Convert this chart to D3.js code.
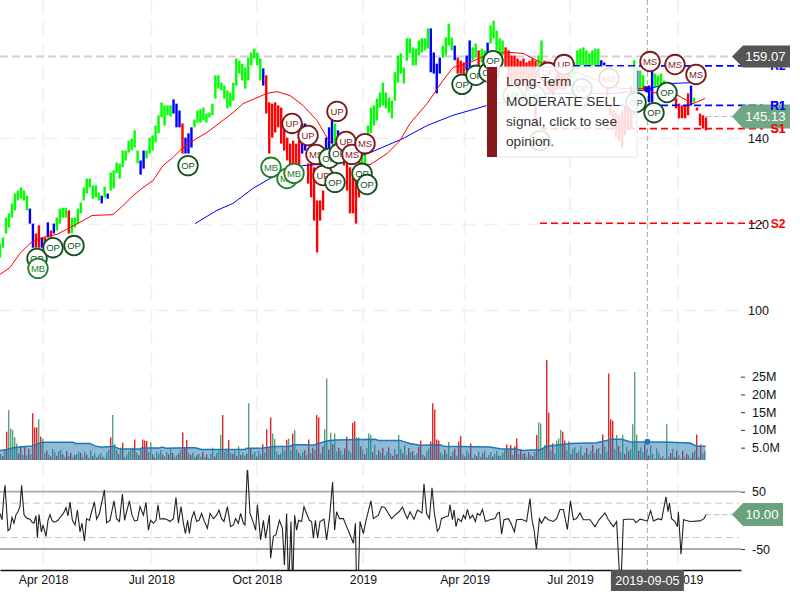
<!DOCTYPE html>
<html><head><meta charset="utf-8">
<style>html,body{margin:0;padding:0;background:#fff}svg{display:block;font-family:"Liberation Sans",Arial,sans-serif}</style>
<script src="https://cdn.jsdelivr.net/npm/d3@7"></script></head><body><svg id="c" width="800" height="600"></svg>
<script>
const priceHigh=[115.6,117,121.6,122.6,124.9,127.2,127.9,128.6,127.9,126.7,123.7,120.2,117.9,119.8,117,117,120.5,118.6,120.2,121.6,123.7,123.9,123.9,123.3,121.6,121.6,123.7,125.1,128.6,130.7,130.7,129.1,129.1,127.4,126.7,128.8,127.2,132.1,132.6,134.4,134.2,137.2,137.2,139.5,140,141.9,137.2,134.9,137.2,137.2,140.2,140.7,143,145.4,148.4,147.7,147.7,147.7,149.1,148.1,146.5,143.5,140.2,141.2,142.6,144.4,146.5,146.8,147.2,145.8,146,148.1,154.7,154.7,153,152.3,151.2,150.7,153,158.6,158.1,157.4,156.5,158.8,160,160.9,160,158.6,156.3,154.7,148.4,148.1,148.4,147.7,147.2,142.6,140.2,138.8,139.5,138.8,139.5,143.5,143.5,134.2,134.9,133.3,125.6,125.6,127.9,140.2,142.6,144.9,143.5,141.9,141.2,138.4,134.9,133.3,131.9,130.9,133.3,136.5,137.2,143,147.2,147.7,149.3,150.7,153,150.7,149.5,148.8,155.4,159.3,159.8,156.5,163.3,163.3,161.2,160.9,162.8,163.3,163.3,165.6,165.6,160,157.4,158.8,161.6,163.5,166.7,163.5,161.6,158.8,158.1,157.7,159.3,162.8,161.2,162.1,160.5,160.9,160.5,162.3,166.3,167.4,165.1,163.3,162.8,161.2,160.5,159.3,159.3,158.6,158.1,158.6,157.7,158.1,158.6,158.1,159.3,162.8,158.1,155.8,155.4,154.7,155.8,156.3,155.8,155.4,157,158.1,157.7,160.5,160.9,161.2,160.5,159.8,160.5,160.9,160.9,158.2,157.7,153.5,147.7,146.5,146,145.4,146.5,147.7,148.8,152.3,158.2,155.8,155.8,154.7,151.2,152.3,155.8,155.1,154.7,155.1,153.5,152.8,151.6,150,149.3,148.1,147.7,147.7,150.5,152.3,149.5,147.2,145.8,145.4,144.9];
const priceLow=[112.3,114.6,117.9,119.3,121.6,123.3,125.6,126,125.6,123.3,120.2,114.6,114.6,114.6,114.6,114.6,117,117,117.9,118.6,120.2,121.6,121.6,117.9,117.9,119.3,120.2,122.6,125.6,127.2,128.6,126,126.3,125.6,124.9,126.3,126,127.9,128.4,131.9,130.7,133.3,134.9,136.7,137.2,137.9,134.2,131.6,133,135.4,136.5,137.2,139.1,141.2,144.9,143,145.4,145.1,145.8,142.6,142.6,136.5,136.5,136.5,137.9,142.6,143.7,143.7,144.2,143.7,144.9,145.4,149.3,151.6,151.2,149.3,147,147.4,148.8,152.3,155.1,153.5,151.6,153.5,157,158.6,157,153.5,152.3,145.8,136.5,140.2,141.4,142.6,138.8,137.2,134.9,130.2,131.9,134.2,131.9,136.5,137.2,129.5,126.3,120.9,113.5,120.9,123.3,136.5,136.5,138.8,137.9,135.6,137.2,133.7,127.9,122.6,122.6,120.2,126.3,131.9,132.6,136.5,141.2,143,144.2,147.2,147.7,147,146,144.7,148.8,153,155.1,152.8,158.1,159.8,157,157,159.3,160,160.5,160.9,155.4,155.1,150.5,155.1,158.8,159.3,161.6,160.5,158.2,155.1,155.1,153.9,155.8,156.5,158.2,158.8,157,157.7,158.2,159.8,162.1,163.3,160.5,160,159.3,156.5,152.3,151.2,153.5,151.2,152.3,152.3,151.2,150,150.7,143,154.7,157,152.3,151.2,150.7,150,151.2,151.6,151.2,151.6,152.3,153.5,154.7,155.8,157,157,157,157,157,157,157,157,157,150,145.4,141.9,140.2,139.5,137.9,140.7,141.9,142.3,145.4,151.2,151.2,151.6,151.9,148.4,148.4,151.9,152.3,152.3,152.8,151.2,150.7,148.8,147,144.7,144.7,144.7,145.4,147.7,148.4,146.5,143,142.3,141.9,141.4];
const priceRegime="gggggggggg"+"bbrrbrbrbg"+"gggrgggggg"+"ggggbgbggg"+"gggggggbbg"+"ggggggggbb"+"brbbbggggg"+"gggggggggg"+"ggggggggbr"+"rrrrrrrrrr"+"rbbrrrrrrb"+"bbgbgrrrrr"+"rggggggggg"+"gggggggggg"+"ggggbbbbgg"+"ggbrrrbbgg"+"rggbgggggr"+"rrrrrrrrrr"+"gg"+"rrrrrrrrr"+"ggggggggggbb"+"rrrrrrrrrgb"+"gggbbggggbb"+"rrrrrrbgrrrrr";

const redMaBars=[0,5,10,15,21.5,28.5,35,40,46,56.5,61.5,66.5,71.5,76.5,81.5,86.5,91,96.5,103.5,110,116.5,121.5,126.5,133.5,138.5,145,151.5,158.5,163.5,168.5,175,185,193.5,200,205,213.5,221.5,226.5,235,245,255,261.5,266.5,271.5,290,296.5,310,318.5,323.5,326.5,339,346.5,352.5];
const redMaValues=[108.4,110,113.3,115.6,117,117.7,119.3,120.5,122.1,122.3,124.4,126.7,128.6,130.2,133.7,135.6,137.7,139.5,141.4,143.7,146,148.1,149.1,150.5,150.9,150,147.7,144.2,140.2,137.2,134.9,133.9,136.5,139.5,143.5,148.1,153.5,156.5,157.7,159.8,160,159.8,158.6,157.4,155.1,153.9,151.6,151.6,151.6,150.7,150,148.1,149.3];
const blueMaBars=[97.5,108.5,116.5,126.5,135,138.5,151.5,168.5,185,201.5,213.5,226.5,238.5,246.5,252.5,272.5,307.5,321,335,347.5];
const blueMaValues=[120.2,123.3,124.9,128.4,130.7,131.4,133.7,134.2,136.7,140,143,145.4,147,148.1,148.4,150.5,150.5,151.2,152.8,153];

const levelNames=["R2","R1","S1","S2"];
const levelValues=[156.9,147.7,142.3,120.3];
const lastClose=145.13, priorHigh=159.07, lastCci=10;

const markerType=["OP","MB","OP","OP","OP","MB","MB","MB","UP","UP","UP","MS","OP","OP","UP","UP","MS","MS","OP","OP","OP","OP","OP","OP","OP","MB","MB","UP","UP","OP","MS","OP","OP","MS","MS","MS","OP","OP"];
const markerBar=[18.5,19,26.5,37,94,135.5,143.5,147,146,154,161.5,158,164.5,169.5,173,168.5,176,182.5,167.5,181,183.5,231,238,244.5,246.5,256.5,267.5,274,282,291,304.5,270,318,325,337.5,348,333.5,327];
const markerPrice=[112.1,109.8,114.6,115.1,133.7,133.3,130.7,131.9,143.5,140.7,131.4,136.3,135.4,136.5,139.3,146.3,136.3,138.8,129.8,131.9,129.3,152.6,154.7,155.4,158.1,150,150,155.4,157.2,151.6,154,139.5,148.4,157.9,157.2,154.9,150.7,146];

const volumes=[3.2,2.6,4.6,9.5,15.6,10.4,10,7.9,6.2,3.4,
5.5,3,5.5,2.8,4.7,3.2,14.7,10.7,10.7,13,
8.1,7.6,3.5,4.2,3,2.5,4.6,3.8,2.7,4,
4.4,3.1,2.4,4.1,2.7,3.5,2.3,2.9,3.2,3.9,
3.6,2.4,3.9,3,2.1,4.2,2.6,3.4,2.2,2.9,
3.5,2.4,1.9,3.6,4.4,7.9,14.2,6,4.4,3.2,
5,6.4,2.4,3.1,3.9,4.5,5,7.3,3.6,2.9,
4.7,7.3,7,6.9,3.7,6.5,3.1,2.3,3.9,3.3,
4.3,3,2.5,3.8,3.1,4.8,3.5,2.4,2.9,3.4,
4.4,9.3,5,7.2,3.4,2.9,3.6,2.3,2.8,3.3,
2.5,3.8,2.4,3.1,2,3.3,5,2.5,3.5,4,
8.6,14.2,3.9,4.7,7.2,3.5,3.2,4.1,2.6,5.4,
2.9,3.6,2.7,3.3,17.5,4.7,3.2,3.9,2.5,4.1,
3.1,6,3.6,10.2,4.8,13.5,9,7.5,3.8,3,
3.4,5.2,4.1,7.2,7.6,4.2,9,10,4.5,3.6,
2.8,3.7,4.3,3,7.3,3.5,5,4.4,14.2,13.5,
3.4,5.4,10.2,24.5,4.5,9.2,6,9,3.9,5,
4.2,3.1,4.8,8.1,4.3,3.6,12,12.4,7.9,7.9,
5.4,4.2,3.2,4.9,9,8.6,3.7,5.8,2.9,4.3,
3.6,5,2.8,3.9,5.1,3.3,2.7,4.5,3.2,8.6,
4.6,3.4,5.8,2.9,4.9,3.7,4,2.8,3.4,5.3,
7,3.1,2.5,4.1,4.8,6.8,17.5,15.8,7.3,7,
3.6,2.9,4.4,3.3,6.6,2.6,3.9,4.7,2.7,6.7,
8.3,3.2,2.5,4.3,3.4,6.2,2.2,3.1,2.6,3.9,
2.4,3.4,4.2,2.2,2.9,3.7,2.5,3.2,4.1,2.7,
2.6,3.5,4.4,5.9,4.3,5.7,3,5.4,7.6,3.2,
4.6,3.2,3.5,2.4,3.7,3,2.6,3.8,8.6,12.1,
11.8,4.7,5.8,29.7,14.9,4.2,6.2,3.4,7,7.6,
10,9.5,7,4.3,6.8,3.2,4.6,5.1,3.5,4,
5.4,2.8,3.6,5,3.2,4.2,5.7,3.5,4.5,4.9,
3.2,8.7,5.3,3.9,25.9,13,12.6,4.6,8.6,5.5,
3.7,8.6,3.2,5.2,4,4.6,11.6,26.3,8.7,4.1,
5.1,3.8,6,4.4,2.8,5.6,3.3,1.9,4.8,3.6,
2.2,2.6,1.9,11.6,2.5,3.5,4.7,2.3,4.2,2.9,
1.9,4.1,2.4,3.3,2.8,2.1,3.6,4.2,8.7,2.4,
5.9,3.4,4];
const volumeSide="grgrgggggr"+"rgrgrgrrrg"+"rggrgrggrg"+"grgrgrgrgg"+"rggrggrgrg"+"grgggrgggr"+"grgggggrgr"+"grrrggrggg"+"grggrgrggr"+"grrrgrggrg"+"grgrgggrgg"+"grggrgrgrg"+"rggrgrggrg"+"grgrgrgggr"+"gggrggrggr"+"ggrgrgrgrr"+"grggrgrggr"+"ggrrggrrgg"+"rgrgggrggr"+"grggrgrgrg"+"grggrgrggr"+"rgrggrrrrr"+"ggrggrgrgr"+"rgrggrggrg"+"grgrggrggr"+"gggrgrgrrg"+"rgrgrgrgrg"+"gggrrgrggg"+"grrggrggrg"+"grgrggrgrg"+"grggrrrggr"+"ggrgrggggr"+"ggrgrggrgg"+"rgrggrgrrg"+"grgrggrgrg"+"rgg";
const volMaBars=[0,3.3,6.7,10,15.8,18.3,21.7,36.7,37.5,45,47.5,50.8,56.7,60,70,70.8,80,80.8,83.3,93.3,97.5,100.8,122.5,123.3,131.7,136.7,145,146.7,152.5,156.7,159.2,163.3,167.5,187.5,189.2,200,205,210,220,221.7,245,250,258.3,260.8,270,273.3,283.3,285,298.3,303.3,305.8,310.8,315,331.7,345,348.3,352.8];
const volMaValues=[4.2,4.4,5,5.2,5.5,6,6.5,6.5,6.2,6.2,5.5,5.1,5.4,4.6,4.6,4.9,4.9,5.2,4.8,5,5,4.5,4.5,4.8,4.9,5.3,5.4,5.8,5.8,5.7,6.2,6.9,7.15,7.35,7.05,7.05,6.2,5.7,5.8,5.4,5.2,4.7,4.6,4.2,4.4,5.4,6,6.2,6.4,7,7.35,7.35,6.7,6.6,6.3,5.4,5.4];

const cciBars=[0,1,2,2.5,4,5,6,7,8,9,10,10.8,12,13,14,15,16,17,18,18.7,19.5,20.7,21.5,23,24,25,26,27,28,29,30,31.7,33,34,35,36.2,37.5,38.7,40,41,42.2,43.3,44.7,45.8,47.2,48.3,49.7,50.8,52.2,53.3,55,57,58.3,59.7,61.2,62.3,63.3,64.7,66,67.3,68.7,70,71.7,73,74.2,75.3,76.7,78,79,80,81.7,83.3,85,86.7,88,89.2,90.5,91.7,92.7,93.8,94.7,95.8,97,98.3,99.5,100.8,102,103.7,105,106.7,108.3,109.5,110.8,112,113.7,115.3,116.7,117.8,119.2,120.3,121.7,122.5,123.7,125,126.3,127.8,128.7,130.3,131.7,132.8,134.7,135.3,136.7,138,139.7,141.2,142.2,143.3,144.3,145.5,146.3,147.3,148.3,149.3,150.8,152,153.3,154.7,155.8,156.7,157.7,158.8,160,162,163.3,164.7,166.3,167.3,168.3,169.7,171.7,173.3,175,176.7,177.7,178.3,179,180,181.7,183,185.5,186.7,189.2,190.8,192.5,194.2,195.8,197.5,199.5,201.3,202.5,203.7,205,207,208.7,211,212,213.3,214.7,216,217.2,218.7,219.7,220.7,222.5,224.2,225,226.2,227,228,229,230.7,231.7,232.7,233.7,235,236.3,237.7,238.7,240,241.2,242.7,245,247.5,248.7,249.7,250.8,252,254.2,255.5,257.2,258.3,260.8,263.3,265,266,267,268.2,269.7,270.7,272.5,274.2,276.7,278.3,280,281.7,283.7,285.2,286.7,288.3,290,291.7,295,297.5,299.5,302.5,304.2,306.7,308.3,310.3,311.7,313.3,316.7,318,320,323.7,325.3,326.7,329.2,330.8,333,334,334.7,335.8,337.5,338.7,339.2,340.5,341.8,345,350,352,353];
const cciValues=[12,1,45,61,-18,-15,5,-5,10,15,25,61,10,5,3,2,-3,-5,8,-30,10,-20,-8,-28,0,10,0,-3,-2,0,5,12,22,8,32,0,-8,18,-20,-5,-36,3,0,15,32,2,12,30,53,-4,0,34,3,-2,46,0,15,34,9,-1,0,24,9,31,-17,0,-5,0,27,2,3,2,-2,3,40,-5,24,-5,-23,0,-23,3,15,-2,0,12,0,-14,12,3,9,18,3,-2,24,-11,-8,3,-5,12,-5,-8,95,12,0,-17,27,-34,0,-31,9,-66,-28,-25,0,-14,-78,12,-120,-2,-120,9,-17,0,-2,24,12,0,-2,-31,0,-31,-2,2,-34,3,67,-17,15,3,3,-11,-25,-40,-5,-120,-120,-2,-23,0,34,3,9,24,22,12,3,9,15,23,12,3,15,2,18,13,64,12,3,57,12,-19,-14,3,6,8,27,1,18,-11,3,-2,9,3,19,3,9,-2,12,9,19,-2,1,3,12,14,-24,1,3,-5,-20,1,2,-2,38,1,-16,-50,3,-5,6,1,-2,3,19,19,-16,34,1,3,13,1,1,-11,1,13,1,-11,-2,-130,1,2,2,-4,2,-1,17,-1,3,1,41,15,30,3,-2,-11,15,-59,1,-2,-1,3,10];

const tickBars=[21.6,75.7,128.5,181.5,232.3,285,339];
const tickLabels=["Apr 2018","Jul 2018","Oct 2018","2019","Apr 2019","Jul 2019","Oct 2019"];
const priceTicks=[100,120,140], volTicks=[5,10,15,20,25], cciTicks=[-50,50];
const crossBar=323.7, crossDate="2019-09-05";
const tooltipLines=["Long-Term","MODERATE SELL","signal, click to see","opinion."];

const svg=d3.select("#c");
const x=d3.scaleLinear().domain([0,370.5]).range([0,741]);
const xPriceBar=i=>x(i*353/(priceHigh.length-1));
const yP=d3.scaleLinear().domain([100,140]).range([310.5,138.5]);
const yV=d3.scaleLinear().domain([0,25]).range([465.4,376.7]);
const yC=d3.scaleLinear().domain([-50,50]).range([549,491.7]);
const defs=svg.append("defs");
defs.append("clipPath").attr("id","cv").append("rect").attr("x",0).attr("y",340).attr("width",741).attr("height",120);
defs.append("clipPath").attr("id","cc").append("rect").attr("x",0).attr("y",470).attr("width",741).attr("height",100);

// grid
svg.append("g").selectAll("line").data(tickBars).join("line").attr("x1",d=>x(d)).attr("x2",d=>x(d)).attr("y1",0).attr("y2",570).attr("stroke","#f0f0f0").attr("stroke-width",1.5).attr("stroke-dasharray","14,8");
svg.append("g").selectAll("line").data(priceTicks).join("line").attr("x1",0).attr("x2",741).attr("y1",d=>yP(d)).attr("y2",d=>yP(d)).attr("stroke","#f0f0f0").attr("stroke-width",1.5).attr("stroke-dasharray","14,8");

// prior high line
svg.append("line").attr("x1",0).attr("x2",732).attr("y1",yP(priorHigh)).attr("y2",yP(priorHigh)).attr("stroke","#cfcfcf").attr("stroke-width",2).attr("stroke-dasharray","8,4");

// price bars
const regimeColor={g:"#00ff00",b:"#0000ff",r:"#ff0000"};
svg.append("g").selectAll("rect").data(priceHigh).join("rect")
 .attr("x",(d,i)=>xPriceBar(i)-1.2).attr("width",2.4)
 .attr("y",d=>yP(d)).attr("height",(d,i)=>yP(priceLow[i])-yP(d))
 .attr("fill",(d,i)=>regimeColor[priceRegime[i]]);

// moving averages
const lineOf=(bars,vals,ys)=>d3.line().x((d,i)=>x(bars[i])).y(d=>ys(d))(vals);
svg.append("path").attr("d",lineOf(blueMaBars,blueMaValues,yP)).attr("fill","none").attr("stroke","#0000ff").attr("stroke-width",1);
svg.append("path").attr("d",lineOf(redMaBars,redMaValues,yP)).attr("fill","none").attr("stroke","#ff0000").attr("stroke-width",1);

// support/resistance
const levelColor=n=>n[0]==="R"?"#0000ff":"#ff0000";
svg.append("g").selectAll("line").data(levelNames).join("line")
 .attr("x1",x(270)).attr("x2",763).attr("y1",(d,i)=>yP(levelValues[i])).attr("y2",(d,i)=>yP(levelValues[i]))
 .attr("stroke",levelColor).attr("stroke-width",1.6).attr("stroke-dasharray","7,4");
svg.append("g").selectAll("text").data(levelNames).join("text")
 .attr("x",778).attr("y",(d,i)=>yP(levelValues[i])).attr("dy","0.36em").attr("text-anchor","middle")
 .attr("font-size",12).attr("font-weight","bold").attr("fill",levelColor).text(d=>d);

// crosshair
svg.append("line").attr("x1",x(crossBar)).attr("x2",x(crossBar)).attr("y1",0).attr("y2",570).attr("stroke","#aaaaaa").attr("stroke-dasharray","5,3");
svg.append("circle").attr("cx",x(crossBar)-2).attr("cy",yP(151.6)).attr("r",2.8).attr("fill","#ff0000");
svg.append("circle").attr("cx",x(crossBar)).attr("cy",yP(151.4)).attr("r",3).attr("fill","#0000ff");

// markers
const stroke={OP:"#14501e",MB:"#1e8028",UP:"#7b1a1e",MS:"#7b1a1e"}, ink={OP:"#14501e",MB:"#1e8028",UP:"#8a1a1e",MS:"#8a1a1e"};
const m=svg.append("g").selectAll("g").data(markerType).join("g").attr("transform",(d,i)=>`translate(${x(markerBar[i])},${yP(markerPrice[i])})`);
m.append("circle").attr("r",9.8).attr("fill","#fff").attr("stroke",d=>stroke[d]).attr("stroke-width",1.8);
m.append("text").attr("text-anchor","middle").attr("dy","0.36em").attr("font-size",9.5).attr("fill",d=>ink[d]).text(d=>d);

// tooltip
svg.append("rect").attr("x",487).attr("y",67).attr("width",150).attr("height",90).attr("fill","#fff").attr("fill-opacity",0.86).attr("stroke","#e6e6e6");
svg.append("rect").attr("x",487).attr("y",67).attr("width",10).attr("height",90).attr("fill","#861a1a");
svg.append("g").selectAll("text").data(tooltipLines).join("text").attr("x",506).attr("y",(d,i)=>81+20*i).attr("dy","0.36em").attr("font-size",13.7).attr("fill","#333").text(d=>d);

// value flags
function flag(y,h,right,fill,label,fo){
 svg.append("path").attr("d",`M732,${y}L743,${y-h/2}L${right},${y-h/2}L${right},${y+h/2}L743,${y+h/2}Z`).attr("fill",fill).attr("fill-opacity",fo);
 svg.append("text").attr("x",(743+right)/2-1).attr("y",y).attr("dy","0.36em").attr("text-anchor","middle").attr("font-size",13.2).attr("fill","#fff").text(label);
}
svg.append("line").attr("x1",x(353)).attr("x2",732).attr("y1",yP(lastClose)).attr("y2",yP(lastClose)).attr("stroke","#bbb").attr("stroke-dasharray","5,3");
flag(yP(priorHigh),22,790,"#555555",priorHigh.toFixed(2),1);
flag(yP(lastClose),24,790,"#69a27d",lastClose.toFixed(2),0.95);
svg.append("g").selectAll("text").data(["R1","S1"]).join("text").attr("x",778).attr("y",d=>yP(levelValues[levelNames.indexOf(d)])).attr("dy","0.36em").attr("text-anchor","middle").attr("font-size",12).attr("font-weight","bold").attr("fill",levelColor).text(d=>d);

// price axis
const axisText=(g,size)=>g.selectAll("text").attr("font-size",size).attr("font-family","inherit").attr("fill","#111");
const ax=svg.append("g").attr("transform","translate(748,0)").call(d3.axisRight(yP).tickValues(priceTicks).tickSize(0).tickPadding(0));
ax.select(".domain").remove();axisText(ax,12.5);

// volume
const gV=svg.append("g").attr("clip-path","url(#cv)");
gV.selectAll("rect").data(volumes).join("rect").attr("x",(d,i)=>x(i)).attr("width",1.4).attr("y",d=>yV(d)).attr("height",d=>Math.max(0,yV(0)-yV(d)))
 .attr("fill",(d,i)=>volumeSide[i]==="r"?"#e32424":"#5aa078");
const areaV=d3.area().x((d,i)=>x(volMaBars[i])).y0(yV(0)).y1(d=>yV(d));
gV.append("path").attr("d",areaV(volMaValues)).attr("fill","#1f77b4").attr("fill-opacity",0.5);
gV.append("path").attr("d",lineOf(volMaBars,volMaValues,yV)).attr("fill","none").attr("stroke","#1f77b4").attr("stroke-width",1.5);
svg.append("circle").attr("cx",x(crossBar)).attr("cy",yV(6.7)).attr("r",3).attr("fill","#1f77b4");
const av=svg.append("g").attr("transform","translate(741,0)").call(d3.axisRight(yV).tickValues(volTicks).tickSize(4).tickPadding(7).tickFormat(d=>d===5?"5.0M":d+"M"));
av.select(".domain").remove();axisText(av,12.5);av.selectAll("line").attr("stroke","#333");

// cci pane
svg.append("g").selectAll("line").data(cciTicks).join("line").attr("x1",0).attr("x2",741).attr("y1",d=>yC(d)).attr("y2",d=>yC(d)).attr("stroke","#aaaaaa").attr("stroke-width",1.8);
svg.append("g").selectAll("line").data([-30,30]).join("line").attr("x1",0).attr("x2",739).attr("y1",d=>yC(d)).attr("y2",d=>yC(d)).attr("stroke","#c8c8c8").attr("stroke-dasharray","7,4");
svg.append("path").attr("clip-path","url(#cc)").attr("d",lineOf(cciBars,cciValues,yC)).attr("fill","none").attr("stroke","#222").attr("stroke-width",1.1);
svg.append("line").attr("x1",x(353)).attr("x2",732).attr("y1",yC(lastCci)).attr("y2",yC(lastCci)).attr("stroke","#bbb").attr("stroke-dasharray","5,3");
flag(yC(lastCci),23,783,"#69a27d",lastCci.toFixed(2),1);
const ac=svg.append("g").attr("transform","translate(741,0)").call(d3.axisRight(yC).tickValues(cciTicks).tickSize(4).tickPadding(7).tickFormat(d=>String(d)));
ac.select(".domain").remove();axisText(ac,12.5);ac.selectAll("line").attr("stroke","#333");

// time axis
const at=svg.append("g").attr("transform","translate(0,570)").call(d3.axisBottom(x).tickValues(tickBars).tickSize(0).tickPadding(5).tickFormat((d,i)=>tickLabels[i]));
at.select(".domain").attr("stroke","#111").attr("stroke-width",1.4);axisText(at,12.3);

// date flag
svg.append("rect").attr("x",x(crossBar)-36.5).attr("y",570).attr("width",73).attr("height",21).attr("fill","#555");
svg.append("text").attr("x",x(crossBar)).attr("y",580).attr("dy","0.36em").attr("text-anchor","middle").attr("font-size",12.6).attr("fill","#fff").text(crossDate);
</script></body></html>
